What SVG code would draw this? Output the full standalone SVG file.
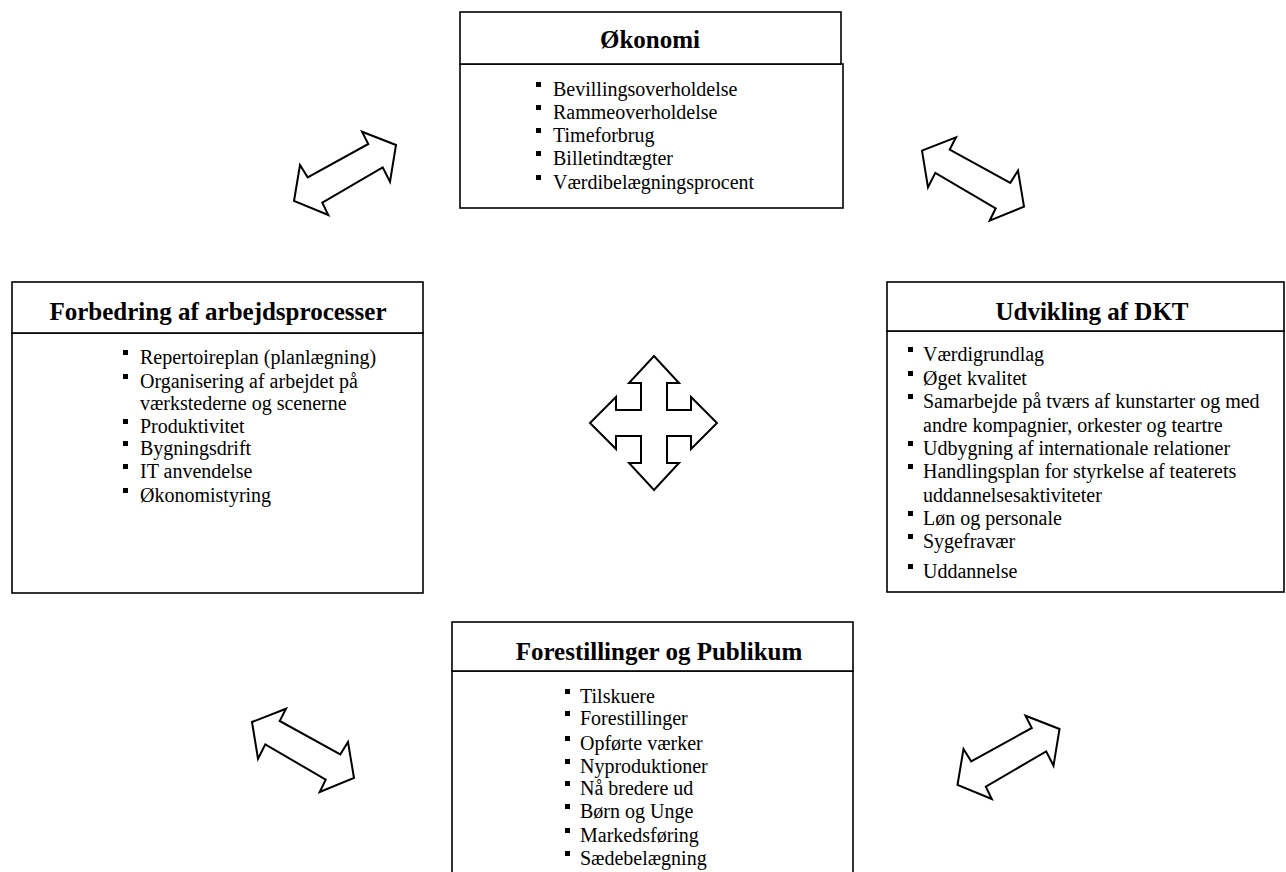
<svg xmlns="http://www.w3.org/2000/svg" xmlns:xlink="http://www.w3.org/1999/xlink" width="1286" height="872" viewBox="0 0 1286 872">
<style>
.box{fill:#fff;stroke:#000;stroke-width:1.6}
.title{font-family:"Liberation Serif","Times New Roman",serif;font-weight:bold;font-size:25px;fill:#000;text-anchor:middle}
.item{font-family:"Liberation Serif","Times New Roman",serif;font-size:20px;fill:#000}
.bul{fill:#000}
.arr{fill:#fff;stroke:#000;stroke-width:2;stroke-linejoin:miter}
</style>
<defs>
<polygon id="dbl" points="396,145 390,181.7 382.7,167.3 322.3,202.7 328.3,215 294,201 300,165 307.7,177.3 368.3,144 362,131.7"/>
<rect id="sq" width="5" height="5"/>
</defs>
<rect width="1286" height="872" fill="#fff"/>

<g id="connectors">
<use xlink:href="#dbl" class="arr"/>
<use xlink:href="#dbl" class="arr" transform="translate(1318,5.6) scale(-1,1)"/>
<use xlink:href="#dbl" class="arr" transform="translate(648,577) scale(-1,1)"/>
<use xlink:href="#dbl" class="arr" transform="translate(663.5,584)"/>
<polygon class="arr" points="654,356 679,383 667,383 667,410 691,410 691,397 717,423 691,449 691,436 667,436 667,463 679,463 654,490 629,463 641,463 641,436 616,436 616,449 590,423 616,397 616,410 641,410 641,383 629,383"/>
</g>

<g id="okonomi">
<rect class="box" x="460" y="64" width="383" height="144"/>
<rect class="box" x="460" y="12" width="381" height="52"/>
<text class="title" x="650" y="48">Økonomi</text>
<use xlink:href="#sq" class="bul" x="536" y="82"/>
<use xlink:href="#sq" class="bul" x="536" y="105"/>
<use xlink:href="#sq" class="bul" x="536" y="128"/>
<use xlink:href="#sq" class="bul" x="536" y="151"/>
<use xlink:href="#sq" class="bul" x="536" y="175"/>
<text class="item" x="553" y="96">Bevillingsoverholdelse</text>
<text class="item" x="553" y="119">Rammeoverholdelse</text>
<text class="item" x="553" y="142">Timeforbrug</text>
<text class="item" x="553" y="165">Billetindtægter</text>
<text class="item" x="553" y="189">Værdibelægningsprocent</text>
</g>

<g id="forbedring">
<rect class="box" x="12" y="333" width="411" height="260"/>
<rect class="box" x="12" y="282" width="411" height="51"/>
<text class="title" x="218" y="320">Forbedring af arbejdsprocesser</text>
<use xlink:href="#sq" class="bul" x="123" y="350"/>
<use xlink:href="#sq" class="bul" x="123" y="374"/>
<use xlink:href="#sq" class="bul" x="123" y="419"/>
<use xlink:href="#sq" class="bul" x="123" y="441"/>
<use xlink:href="#sq" class="bul" x="123" y="464"/>
<use xlink:href="#sq" class="bul" x="123" y="488"/>
<text class="item" x="140" y="364">Repertoireplan (planlægning)</text>
<text class="item" x="140" y="388">Organisering af arbejdet på</text>
<text class="item" x="140" y="410">værkstederne og scenerne</text>
<text class="item" x="140" y="433">Produktivitet</text>
<text class="item" x="140" y="455">Bygningsdrift</text>
<text class="item" x="140" y="478">IT anvendelse</text>
<text class="item" x="140" y="502">Økonomistyring</text>
</g>

<g id="udvikling">
<rect class="box" x="887" y="331" width="397" height="261"/>
<rect class="box" x="887" y="282" width="397" height="49"/>
<text class="title" x="1092" y="320">Udvikling af DKT</text>
<use xlink:href="#sq" class="bul" x="908" y="347"/>
<use xlink:href="#sq" class="bul" x="908" y="371"/>
<use xlink:href="#sq" class="bul" x="908" y="394"/>
<use xlink:href="#sq" class="bul" x="908" y="441"/>
<use xlink:href="#sq" class="bul" x="908" y="464"/>
<use xlink:href="#sq" class="bul" x="908" y="511"/>
<use xlink:href="#sq" class="bul" x="908" y="534"/>
<use xlink:href="#sq" class="bul" x="908" y="564"/>
<text class="item" x="923" y="361">Værdigrundlag</text>
<text class="item" x="923" y="385">Øget kvalitet</text>
<text class="item" x="923" y="408">Samarbejde på tværs af kunstarter og med</text>
<text class="item" x="923" y="432">andre kompagnier, orkester og teartre</text>
<text class="item" x="923" y="455">Udbygning af internationale relationer</text>
<text class="item" x="923" y="478">Handlingsplan for styrkelse af teaterets</text>
<text class="item" x="923" y="502">uddannelsesaktiviteter</text>
<text class="item" x="923" y="525">Løn og personale</text>
<text class="item" x="923" y="548">Sygefravær</text>
<text class="item" x="923" y="578">Uddannelse</text>
</g>

<g id="forestillinger">
<rect class="box" x="452" y="671" width="401" height="215"/>
<rect class="box" x="452" y="622" width="401" height="49"/>
<text class="title" x="659" y="660">Forestillinger og Publikum</text>
<use xlink:href="#sq" class="bul" x="565" y="689"/>
<use xlink:href="#sq" class="bul" x="565" y="711"/>
<use xlink:href="#sq" class="bul" x="565" y="736"/>
<use xlink:href="#sq" class="bul" x="565" y="759"/>
<use xlink:href="#sq" class="bul" x="565" y="781"/>
<use xlink:href="#sq" class="bul" x="565" y="804"/>
<use xlink:href="#sq" class="bul" x="565" y="828"/>
<use xlink:href="#sq" class="bul" x="565" y="851"/>
<text class="item" x="580" y="703">Tilskuere</text>
<text class="item" x="580" y="725">Forestillinger</text>
<text class="item" x="580" y="750">Opførte værker</text>
<text class="item" x="580" y="773">Nyproduktioner</text>
<text class="item" x="580" y="795">Nå bredere ud</text>
<text class="item" x="580" y="818">Børn og Unge</text>
<text class="item" x="580" y="842">Markedsføring</text>
<text class="item" x="580" y="865">Sædebelægning</text>
</g>
</svg>
